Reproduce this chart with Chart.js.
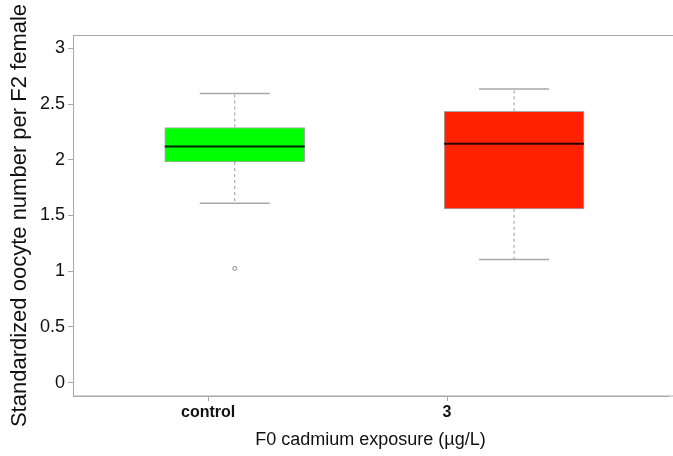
<!DOCTYPE html>
<html>
<head>
<meta charset="utf-8">
<script src="https://cdn.jsdelivr.net/npm/chart.js@4/dist/chart.umd.min.js"></script>
<style>
  html, body { margin: 0; padding: 0; background: #fff; }
  #wrap { width: 673px; height: 456px; }
</style>
</head>
<body>
<div id="wrap"><canvas id="oocytes"></canvas></div>
<script>
// box summaries
const groups = ['control', '3']
const boxPositions = [1, 2]
const lowerWhisker = [1.61, 1.105]
const q1 = [1.98, 1.56]
const median = [2.12, 2.145]
const q3 = [2.29, 2.435]
const upperWhisker = [2.595, 2.635]
const outliers = [[1.025], []]
const boxColors = ['#00ff00', '#ff2200']

// axis ticks (group labels sit slightly left of the boxes in the original)
const yTicks = [0, 0.5, 1, 1.5, 2, 2.5, 3]
const xTickPositions = [0.905, 1.76]

const grey = '#a8a8a8'

const boxData = boxPositions.map((x, i) => ({x: x, y: [q1[i], q3[i]]}))
const outlierData = []
outliers.forEach((vals, i) => vals.forEach(v => outlierData.push({x: boxPositions[i], y: v})))

const whiskers = {
  id: 'whiskers',
  afterDatasetsDraw(chart) {
    const {ctx, scales: {x, y}} = chart
    const bars = chart.getDatasetMeta(0).data
    ctx.save()
    boxPositions.forEach((pos, i) => {
      const cx = x.getPixelForValue(pos)
      const half = bars[i].width / 2
      // dashed stems
      ctx.strokeStyle = '#999'
      ctx.lineWidth = 1
      ctx.setLineDash([3, 3])
      ctx.beginPath()
      ctx.moveTo(cx, y.getPixelForValue(q3[i]))
      ctx.lineTo(cx, y.getPixelForValue(upperWhisker[i]))
      ctx.moveTo(cx, y.getPixelForValue(q1[i]))
      ctx.lineTo(cx, y.getPixelForValue(lowerWhisker[i]))
      ctx.stroke()
      // caps
      ctx.setLineDash([])
      ctx.strokeStyle = grey
      ctx.lineWidth = 1.5
      ctx.beginPath()
      ctx.moveTo(cx - half / 2, y.getPixelForValue(upperWhisker[i]))
      ctx.lineTo(cx + half / 2, y.getPixelForValue(upperWhisker[i]))
      ctx.moveTo(cx - half / 2, y.getPixelForValue(lowerWhisker[i]))
      ctx.lineTo(cx + half / 2, y.getPixelForValue(lowerWhisker[i]))
      ctx.stroke()
      // median
      ctx.strokeStyle = 'rgba(0,0,0,0.85)'
      ctx.lineWidth = 2
      ctx.beginPath()
      ctx.moveTo(cx - half, y.getPixelForValue(median[i]))
      ctx.lineTo(cx + half, y.getPixelForValue(median[i]))
      ctx.stroke()
    })
    // top edge of the frame (it runs off the right of the picture)
    const a = chart.chartArea
    ctx.strokeStyle = grey
    ctx.lineWidth = 1
    ctx.beginPath()
    ctx.moveTo(a.left, a.top + 0.5)
    ctx.lineTo(chart.width, a.top + 0.5)
    ctx.moveTo(a.left, a.bottom)
    ctx.lineTo(chart.width, a.bottom)
    ctx.stroke()
    ctx.restore()
  }
}

new Chart(document.querySelector('#oocytes'), {
  type: 'bar',
  data: {
    datasets: [
      {
        data: boxData,
        backgroundColor: boxColors,
        borderColor: grey,
        borderWidth: 1,
        borderSkipped: false,
        barThickness: 140
      },
      {
        type: 'scatter',
        data: outlierData,
        pointRadius: 2,
        pointBackgroundColor: '#fff',
        pointBorderColor: '#888',
        pointBorderWidth: 1
      }
    ]
  },
  options: {
    responsive: true,
    maintainAspectRatio: false,
    animation: false,
    layout: {padding: {top: 35, right: 0, left: 0, bottom: 0}},
    plugins: {legend: {display: false}, tooltip: {enabled: false}},
    scales: {
      x: {
        type: 'linear',
        offset: false,
        min: 0.421,
        max: 2.551,
        afterBuildTicks: s => { s.ticks = xTickPositions.map(v => ({value: v})) },
        afterFit: s => { s.height = 60 },
        grid: {offset: false, drawOnChartArea: false, color: grey, tickLength: 5},
        border: {color: grey},
        ticks: {
          padding: 2,
          color: '#111',
          font: {family: 'Liberation Sans', size: 16, weight: 'bold'},
          callback: (v, i) => groups[i]
        },
        title: {
          display: true,
          text: 'F0 cadmium exposure (µg/L)',
          color: '#111',
          font: {family: 'Liberation Sans', size: 18},
          padding: {top: 0, bottom: 5}
        }
      },
      y: {
        min: -0.12,
        max: 3.12,
        afterBuildTicks: s => { s.ticks = yTicks.map(v => ({value: v})) },
        afterFit: s => { s.width = 73 },
        grid: {drawOnChartArea: false, color: grey, tickLength: 5},
        border: {color: grey},
        ticks: {
          padding: 3,
          color: '#111',
          font: {family: 'Liberation Sans', size: 18},
          callback: v => String(v)
        },
        title: {
          display: true,
          text: 'Standardized oocyte number per F2 female',
          color: '#111',
          font: {family: 'Liberation Sans', size: 22},
          padding: {top: 7, bottom: 0}
        }
      }
    }
  },
  plugins: [whiskers]
})
</script>
</body>
</html>
